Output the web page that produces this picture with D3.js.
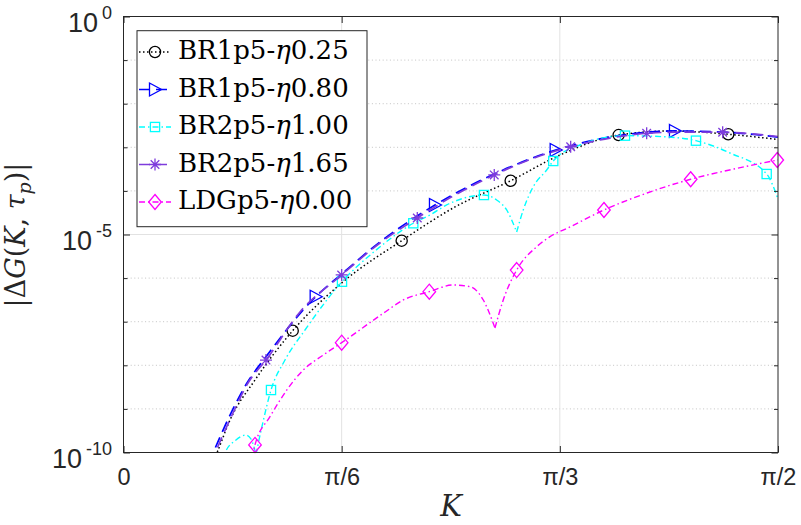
<!DOCTYPE html>
<html><head><meta charset="utf-8">
<script src="https://cdn.jsdelivr.net/npm/d3@7"></script>
<style>body{margin:0;background:#fff}svg{display:block}</style>
</head><body>
<svg id="c" width="801" height="525"></svg>
<script>
// ---------------- data ----------------
const xTickValues = [0, Math.PI/6, Math.PI/3, Math.PI/2];
const xTickLabels = ["0", "π/6", "π/3", "π/2"];
const yMajorTicks = [1, 1e-5, 1e-10];
const yMajorExp   = ["0", "-5", "-10"];
const yMinorTicks = [1e-1, 1e-2, 1e-3, 1e-4, 1e-6, 1e-7, 1e-8, 1e-9];

const seriesNames = ["BR1p5-η0.25", "BR1p5-η0.80", "BR2p5-η1.00", "BR2p5-η1.65", "LDGp5-η0.00"];

// BR1p5-eta0.25 (black dotted, circles)
const kBlack = [0.2136, 0.2251, 0.2556, 0.3156, 0.4061, 0.5236, 0.6676, 0.7955, 0.9292, 1.0475, 1.1884, 1.3163, 1.4514, 1.5708];
const gBlack = [5.75e-11, 1.03e-10, 5.56e-10, 4.60e-9, 6.22e-8, 7.73e-7, 7.21e-6, 4.28e-5, 1.71e-4, 6.65e-4, 1.91e-3, 2.37e-3, 1.99e-3, 1.51e-3];
const mkBlack = [0.4061, 0.6676, 0.9292, 1.1884, 1.4514];
const mvBlack = [6.22e-8, 7.21e-6, 1.71e-4, 1.91e-3, 1.99e-3];

// BR1p5-eta0.80 (blue dashed, right triangles)
const kBlue = [0.2040, 0.2148, 0.2580, 0.2964, 0.3396, 0.4612, 0.5236, 0.6155, 0.7475, 0.8898, 1.0372, 1.1675, 1.3235, 1.4380, 1.5708];
const gBlue = [5.75e-11, 9.77e-11, 8.05e-10, 3.93e-9, 1.47e-8, 3.74e-7, 1.24e-6, 6.73e-6, 4.75e-5, 2.44e-4, 8.67e-4, 1.72e-3, 2.37e-3, 2.24e-3, 1.72e-3];
const mkBlue = [0.4612, 0.7475, 1.0372, 1.3235];
const mvBlue = [3.74e-7, 4.75e-5, 8.67e-4, 2.37e-3];

// BR2p5-eta1.00 (cyan dash-dot, squares)
const kCyan = [0.2364, 0.2436, 0.2700, 0.2940, 0.3060, 0.3180, 0.3252, 0.3348, 0.3540, 0.3876, 0.4356, 0.5244, 0.6036, 0.6955, 0.7356, 0.7756, 0.8155, 0.8651, 0.8956, 0.9196, 0.9436, 0.9594, 0.9834, 1.0156, 1.0314, 1.0955, 1.2035, 1.2947, 1.3739, 1.4555, 1.5436, 1.5708];
const gCyan = [5.75e-11, 9.77e-11, 1.94e-10, 2.52e-10, 2.04e-10, 8.9e-11, 1.94e-10, 5.01e-10, 2.71e-9, 1.32e-8, 6.46e-8, 8.26e-7, 4.19e-6, 1.81e-5, 2.80e-5, 4.75e-5, 6.76e-5, 8.05e-5, 6.18e-5, 3.65e-5, 1.14e-5, 3.65e-5, 1.25e-4, 3.01e-4, 4.85e-4, 1.13e-3, 1.85e-3, 1.75e-3, 1.42e-3, 7.40e-4, 2.44e-4, 6.52e-5];
const mkCyan = [0.3540, 0.5244, 0.6955, 0.8651, 1.0314, 1.2035, 1.3739, 1.5436];
const mvCyan = [2.71e-9, 8.26e-7, 1.81e-5, 8.05e-5, 4.85e-4, 1.85e-3, 1.42e-3, 2.44e-4];

// BR2p5-eta1.65 (purple dashed, asterisks)
const kPurple = [0.2088, 0.2196, 0.2628, 0.2988, 0.3420, 0.4236, 0.5236, 0.6155, 0.7051, 0.7955, 0.8898, 0.9755, 1.0732, 1.1675, 1.2556, 1.3475, 1.4380, 1.5708];
const gPurple = [5.75e-11, 9.77e-11, 8.05e-10, 3.93e-9, 1.32e-8, 1.67e-7, 1.18e-6, 6.38e-6, 2.39e-5, 8.05e-5, 2.32e-4, 5.25e-4, 1.03e-3, 1.63e-3, 2.09e-3, 2.24e-3, 2.21e-3, 1.77e-3];
const mkPurple = [0.3420, 0.5236, 0.7051, 0.8898, 1.0732, 1.2556, 1.4380];
const mvPurple = [1.32e-8, 1.18e-6, 2.39e-5, 2.32e-4, 1.03e-3, 2.09e-3, 2.21e-3];

// LDGp5-eta0.00 (magenta dash-dot, diamonds)
const kMag = [0.3096, 0.3156, 0.3516, 0.4315, 0.4795, 0.5236, 0.6235, 0.6715, 0.7339, 0.7915, 0.8315, 0.8635, 0.8915, 0.9114, 0.9436, 0.9916, 1.0235, 1.0715, 1.1531, 1.2563, 1.3612, 1.4651, 1.5708];
const gMag = [7.4e-11, 1.49e-10, 6.62e-10, 7.80e-9, 1.72e-8, 3.30e-8, 1.56e-7, 3.15e-7, 4.88e-7, 6.95e-7, 6.35e-7, 3.15e-7, 7.18e-8, 3.15e-7, 1.53e-6, 5.25e-6, 8.91e-6, 1.49e-5, 3.65e-5, 8.95e-5, 1.85e-4, 3.18e-4, 5.12e-4];
const mkMag = [0.3156, 0.5236, 0.7339, 0.9436, 1.1531, 1.3612, 1.5690];
const mvMag = [1.49e-10, 3.30e-8, 4.88e-7, 1.53e-6, 3.65e-5, 1.85e-4, 5.12e-4];

// ---------------- styling / layout ----------------
const styles = [
  {k:kBlack,  g:gBlack,  mk:mkBlack,  mv:mvBlack,  color:"#000000", dash:"1.5,2.5",     lw:1.5, marker:"circle"},
  {k:kBlue,   g:gBlue,   mk:mkBlue,   mv:mvBlue,   color:"#0000ff", dash:"11,6",        lw:1.7, marker:"triangle"},
  {k:kCyan,   g:gCyan,   mk:mkCyan,   mv:mvCyan,   color:"#00ffff", dash:"6,3,1.5,3",   lw:1.4, marker:"square"},
  {k:kPurple, g:gPurple, mk:mkPurple, mv:mvPurple, color:"#7e3cdc", dash:"11,6",        lw:1.7, marker:"asterisk"},
  {k:kMag,    g:gMag,    mk:mkMag,    mv:mvMag,    color:"#ff00ff", dash:"6,3,1.5,3",   lw:1.4, marker:"diamond"}
];

const svg = d3.select("#c");
const L = 123.5, R = 778, T = 16.5, B = 452.5;
const axisColor = "#262626";
const sans = "'Liberation Sans', Arial, Helvetica, sans-serif";
const serif = "'DejaVu Serif', serif";

const x = d3.scaleLinear().domain([0, Math.PI/2]).range([L, R]);
const y = d3.scaleLog().domain([1e-10, 1]).range([B, T]);

svg.append("rect").attr("width", 801).attr("height", 525).attr("fill", "#fff");

// grid
const grid = svg.append("g");
grid.selectAll("line.minor").data(yMinorTicks).join("line")
  .attr("x1", L).attr("x2", R).attr("y1", d => y(d)).attr("y2", d => y(d))
  .attr("stroke", "#bdbdbd").attr("stroke-width", 0.9).attr("stroke-dasharray", "1,2.6");
grid.selectAll("line.majy").data([1e-5]).join("line")
  .attr("x1", L).attr("x2", R).attr("y1", d => y(d)).attr("y2", d => y(d))
  .attr("stroke", "#e2e2e2").attr("stroke-width", 1);
grid.selectAll("line.majx").data(xTickValues.slice(1, 3)).join("line")
  .attr("x1", d => x(d)).attr("x2", d => x(d)).attr("y1", T).attr("y2", B)
  .attr("stroke", "#e2e2e2").attr("stroke-width", 1);

// clip
svg.append("clipPath").attr("id", "clip").append("rect")
  .attr("x", L).attr("y", T).attr("width", R - L).attr("height", B - T);

const line = d3.line().x(d => x(d.k)).y(d => y(d.g)).curve(d3.curveMonotoneX);

function segments(pts) {
  const segs = []; let cur = [pts[0]];
  for (let i = 1; i < pts.length; i++) {
    cur.push(pts[i]);
    if (i < pts.length - 1 && pts[i].g < pts[i-1].g && pts[i].g < pts[i+1].g) {
      segs.push(cur); cur = [pts[i]];
    }
  }
  segs.push(cur);
  return segs;
}

function drawMarker(g, type, color) {
  const sw = 1.3;
  if (type === "circle") g.append("circle").attr("r", 5.6).attr("fill", "none").attr("stroke", color).attr("stroke-width", sw);
  else if (type === "triangle") g.append("path").attr("d", "M-5.5,-6.5L6.5,0L-5.5,6.5Z").attr("fill", "none").attr("stroke", color).attr("stroke-width", sw);
  else if (type === "square") g.append("rect").attr("x", -4.6).attr("y", -4.6).attr("width", 9.2).attr("height", 9.2).attr("fill", "none").attr("stroke", color).attr("stroke-width", sw);
  else if (type === "diamond") g.append("path").attr("d", "M0,-7.5L6.3,0L0,7.5L-6.3,0Z").attr("fill", "none").attr("stroke", color).attr("stroke-width", sw);
  else if (type === "asterisk") g.append("path").attr("d", "M-6,0H6M0,-6V6M-4.3,-4.3L4.3,4.3M-4.3,4.3L4.3,-4.3").attr("fill", "none").attr("stroke", color).attr("stroke-width", sw);
}

const plot = svg.append("g");
styles.forEach(s => {
  const pts = s.k.map((k, i) => ({k: k, g: s.g[i]}));
  const gl = plot.append("g").attr("clip-path", "url(#clip)");
  segments(pts).forEach(seg => {
    gl.append("path").attr("d", line(seg)).attr("fill", "none")
      .attr("stroke", s.color).attr("stroke-width", s.lw).attr("stroke-dasharray", s.dash);
  });
  const gm = plot.append("g");
  s.mk.forEach((k, i) => {
    drawMarker(gm.append("g").attr("transform", `translate(${x(k)},${y(s.mv[i])})`), s.marker, s.color);
  });
});

// axes
function styleAxis(g) {
  g.select(".domain").remove();
  g.selectAll(".tick line").attr("stroke", axisColor).attr("stroke-width", 1);
}
const xb = svg.append("g").attr("transform", `translate(0,${B})`)
  .call(d3.axisBottom(x).tickValues(xTickValues).tickFormat((d, i) => xTickLabels[i]).tickSizeInner(-6.5).tickSizeOuter(0));
styleAxis(xb);
xb.selectAll(".tick text").attr("y", 32.5).attr("dy", null)
  .attr("font-family", sans).attr("font-size", 23.5).attr("fill", axisColor);
const xt = svg.append("g").attr("transform", `translate(0,${T})`)
  .call(d3.axisTop(x).tickValues(xTickValues).tickFormat("").tickSizeInner(-6.5).tickSizeOuter(0));
styleAxis(xt);

const yl = svg.append("g").attr("transform", `translate(${L},0)`)
  .call(d3.axisLeft(y).tickValues(yMajorTicks).tickFormat("").tickSizeInner(-6.5).tickSizeOuter(0));
styleAxis(yl);
const ylm = svg.append("g").attr("transform", `translate(${L},0)`)
  .call(d3.axisLeft(y).tickValues(yMinorTicks).tickFormat("").tickSizeInner(-4).tickSizeOuter(0));
styleAxis(ylm);
const yr = svg.append("g").attr("transform", `translate(${R},0)`)
  .call(d3.axisRight(y).tickValues(yMajorTicks).tickFormat("").tickSizeInner(-6.5).tickSizeOuter(0));
styleAxis(yr);
const yrm = svg.append("g").attr("transform", `translate(${R},0)`)
  .call(d3.axisRight(y).tickValues(yMinorTicks).tickFormat("").tickSizeInner(-4).tickSizeOuter(0));
styleAxis(yrm);

// y tick labels with superscripts
yl.selectAll(".tick").each(function(d, i) {
  const t = d3.select(this).append("text").attr("x", -11.5).attr("y", 15)
    .attr("text-anchor", "end").attr("font-family", sans).attr("fill", axisColor);
  t.append("tspan").attr("font-size", 27).text("10");
  t.append("tspan").attr("font-size", 18).attr("dy", -13).attr("dx", 4).text(yMajorExp[i]);
});

// box
svg.append("rect").attr("x", L).attr("y", T).attr("width", R - L).attr("height", B - T)
  .attr("fill", "none").attr("stroke", axisColor).attr("stroke-width", 1);

// axis labels
svg.append("text").attr("x", 451).attr("y", 516).attr("text-anchor", "middle")
  .attr("font-family", serif).attr("font-style", "italic").attr("font-size", 29).attr("fill", axisColor).text("K");

const ylab = svg.append("text").attr("transform", "translate(25,235) rotate(-90)")
  .attr("text-anchor", "middle").attr("font-family", serif).attr("font-size", 27).attr("fill", axisColor);
ylab.append("tspan").text("|Δ");
ylab.append("tspan").attr("font-style", "italic").text("G");
ylab.append("tspan").text("(");
ylab.append("tspan").attr("font-style", "italic").text("K");
ylab.append("tspan").text(", ");
ylab.append("tspan").attr("font-style", "italic").text("τ");
ylab.append("tspan").attr("font-style", "italic").attr("font-size", 19).attr("dy", 6).text("p");
ylab.append("tspan").attr("dy", -6).text(")|");

// legend
const leg = svg.append("g");
leg.append("rect").attr("x", 137).attr("y", 30.7).attr("width", 230).attr("height", 196)
  .attr("fill", "#fff").attr("stroke", axisColor).attr("stroke-width", 1);
const rowY0 = 52, rowDY = 37.5;
styles.forEach((s, i) => {
  const cy = rowY0 + i * rowDY;
  leg.append("line").attr("x1", 139).attr("x2", 171).attr("y1", cy).attr("y2", cy)
    .attr("stroke", s.color).attr("stroke-width", s.lw).attr("stroke-dasharray", s.dash);
  drawMarker(leg.append("g").attr("transform", `translate(155,${cy})`), s.marker, s.color);
  const parts = seriesNames[i].split("η");
  const t = leg.append("text").attr("x", 178).attr("y", cy + 7)
    .attr("font-family", serif).attr("font-size", 26).attr("fill", "#000");
  t.append("tspan").text(parts[0]);
  t.append("tspan").attr("font-style", "italic").text("η");
  t.append("tspan").text(parts[1]);
});
</script>
</body></html>
